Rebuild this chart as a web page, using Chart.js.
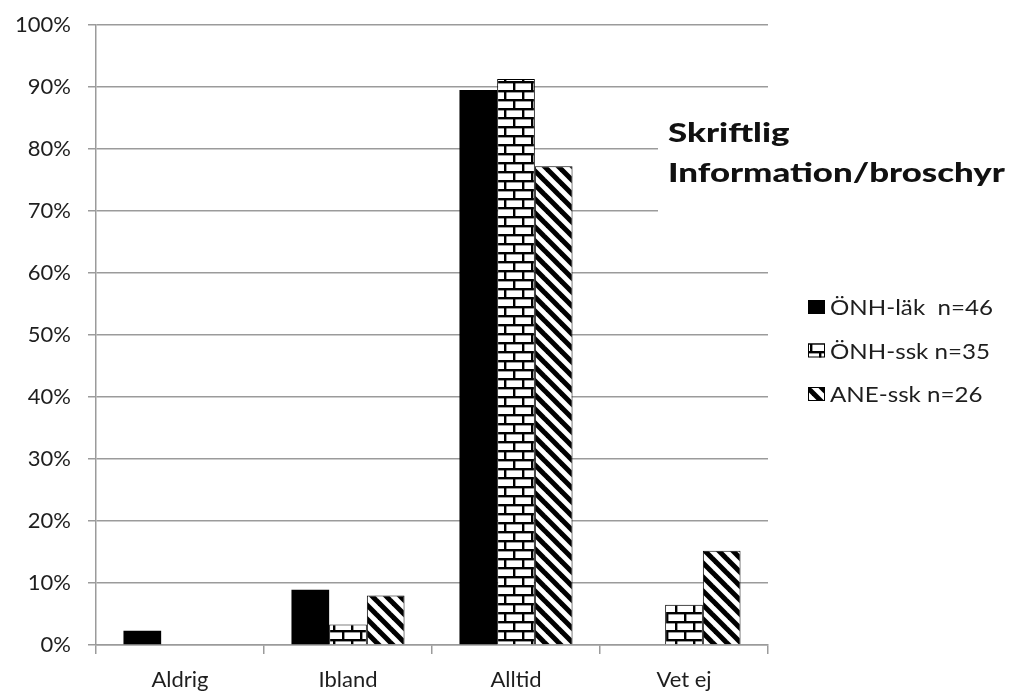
<!DOCTYPE html>
<html lang="sv">
<head>
<meta charset="utf-8">
<title>Skriftlig Information/broschyr</title>
<script src="https://cdn.jsdelivr.net/npm/chart.js@4.4.1/dist/chart.umd.min.js"></script>
<style>
  html, body { margin: 0; padding: 0; background: #ffffff; }
  #wrap { width: 1021px; height: 693px; }
</style>
</head>
<body>
<div id="wrap"><canvas id="chart" width="1021" height="693"></canvas></div>
<script>
// Response categories on the x axis
const categories = ['Aldrig', 'Ibland', 'Alltid', 'Vet ej'];

// Share of respondents per group, in percent
const onhLak = [2.3, 8.9, 89.5, 0];
const onhSsk = [0, 3.3, 91.3, 6.5];
const aneSsk = [0, 8.0, 77.2, 15.2];

// Series names shown in the legend
const seriesNames = ['ÖNH-läk  n=46', 'ÖNH-ssk n=35', 'ANE-ssk n=26'];

// Y axis ticks (percent)
const yTickValues = [0, 10, 20, 30, 40, 50, 60, 70, 80, 90, 100];

// Chart heading, one entry per line
const headingLines = ['Skriftlig', 'Information/broschyr'];

const FONT = 'Lato, "Liberation Sans", Arial, sans-serif';
const TEXT_COLOR = '#1e1e1e';
const GRID_COLOR = '#9b9b9b';

// Brick fill: white bricks with black mortar, rows offset by half a brick
function brickPattern() {
  const w = 18, h = 18, row = 9, t = 2.4;
  const c = document.createElement('canvas');
  c.width = w; c.height = h;
  const g = c.getContext('2d');
  g.fillStyle = '#fff';
  g.fillRect(0, 0, w, h);
  g.fillStyle = '#000';
  g.fillRect(0, 0, w, t);
  g.fillRect(0, row, w, t);
  g.fillRect(0, 0, t, row);
  g.fillRect(w / 2, row, t, row);
  return g.createPattern(c, 'repeat');
}

// Diagonal stripes running from top-left to bottom-right
function stripePattern() {
  const s = 14;
  const c = document.createElement('canvas');
  c.width = s; c.height = s;
  const g = c.getContext('2d');
  g.fillStyle = '#fff';
  g.fillRect(0, 0, s, s);
  g.strokeStyle = '#000';
  g.lineWidth = 5;
  g.lineCap = 'square';
  for (const off of [-s, 0, s]) {
    g.beginPath();
    g.moveTo(off - 2, -2);
    g.lineTo(off + s + 2, s + 2);
    g.stroke();
  }
  return g.createPattern(c, 'repeat');
}

const fills = ['#000000', brickPattern(), stripePattern()];

// Legend drawn in the right margin, next to the plot
const sideLegend = {
  id: 'sideLegend',
  afterDraw(chart) {
    const ctx = chart.ctx;
    ctx.save();
    ctx.font = '22px ' + FONT;
    ctx.textBaseline = 'middle';
    ctx.textAlign = 'left';
    const widest = Math.max(...chart.data.datasets.map(ds => ctx.measureText(ds.label).width));
    const sx = 163 / widest;
    chart.data.datasets.forEach((ds, i) => {
      const y = 307 + i * 43.5;
      ctx.fillStyle = ds.backgroundColor;
      ctx.fillRect(808, y - 7, 17, 14);
      ctx.strokeStyle = '#000';
      ctx.lineWidth = 1;
      ctx.strokeRect(808.5, y - 6.5, 16, 13);
      ctx.fillStyle = TEXT_COLOR;
      ctx.save();
      ctx.translate(830, y + 1);
      ctx.scale(sx, 1);
      ctx.fillText(ds.label, 0, 0);
      ctx.restore();
    });
    ctx.restore();
  }
};

// Bold heading on a white panel over the upper right of the plot
const heading = {
  id: 'heading',
  afterDraw(chart) {
    const ctx = chart.ctx;
    ctx.save();
    ctx.fillStyle = '#ffffff';
    ctx.fillRect(658, 104, 363, 122);
    ctx.font = '900 26px Lato, "DejaVu Sans", sans-serif';
    ctx.textBaseline = 'alphabetic';
    ctx.textAlign = 'left';
    ctx.fillStyle = '#111111';
    const widest = Math.max(...headingLines.map(l => ctx.measureText(l).width));
    const sx = 337 / widest;
    headingLines.forEach((line, i) => {
      ctx.save();
      ctx.translate(668, 142 + i * 40);
      ctx.scale(sx, 1);
      ctx.fillText(line, 0, 0);
      ctx.restore();
    });
    ctx.restore();
  }
};

const seriesValues = [onhLak, onhSsk, aneSsk];

new Chart(document.getElementById('chart'), {
  type: 'bar',
  data: {
    labels: categories,
    datasets: seriesValues.map((vals, i) => ({
      label: seriesNames[i],
      data: vals,
      backgroundColor: fills[i],
      borderColor: '#000000',
      borderWidth: i === 0 ? 0 : 1,
      barPercentage: 1.0,
      categoryPercentage: 0.673
    }))
  },
  options: {
    responsive: false,
    animation: false,
    devicePixelRatio: 1,
    layout: { padding: { left: 0, right: 253, top: 25, bottom: 0 } },
    plugins: {
      legend: { display: false },
      title: { display: false },
      tooltip: { enabled: false }
    },
    scales: {
      x: {
        grid: {
          offset: true,
          drawOnChartArea: false,
          drawTicks: true,
          tickLength: 9,
          color: GRID_COLOR,
          lineWidth: 1.5
        },
        border: { color: GRID_COLOR, width: 1.5 },
        ticks: {
          font: { family: FONT, size: 22 },
          color: TEXT_COLOR,
          padding: 13,
          maxRotation: 0
        },
        afterFit(scale) {
          scale.height = 48;
          scale.paddingLeft = 0;
          scale.paddingRight = 0;
        }
      },
      y: {
        min: 0,
        max: 100,
        afterBuildTicks(scale) {
          scale.ticks = yTickValues.map(v => ({ value: v }));
        },
        ticks: {
          font: { family: FONT, size: 22 },
          color: TEXT_COLOR,
          padding: 17,
          callback: v => v + '%'
        },
        grid: {
          color: GRID_COLOR,
          lineWidth: 1.5,
          tickLength: 8
        },
        border: { color: GRID_COLOR, width: 1.5 },
        afterFit(scale) {
          scale.width = 96;
          scale.paddingTop = 0;
          scale.paddingBottom = 0;
        }
      }
    }
  },
  plugins: [heading, sideLegend]
});
</script>
</body>
</html>
